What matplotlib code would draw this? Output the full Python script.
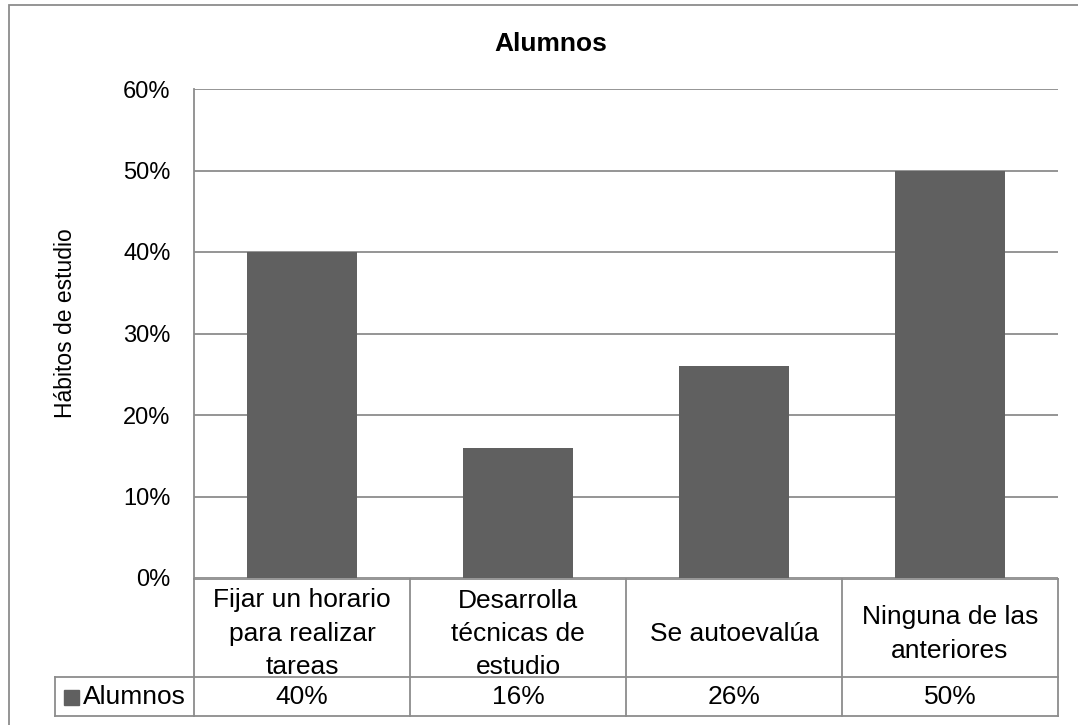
import matplotlib.pyplot as plt
from matplotlib.patches import Rectangle
from matplotlib.lines import Line2D
import matplotlib.transforms as mtransforms

plt.rcParams["font.family"] = ["Liberation Sans", "DejaVu Sans"]

categories = ["Fijar un horario\npara realizar\ntareas",
              "Desarrolla\ntécnicas de\nestudio",
              "Se autoevalúa",
              "Ninguna de las\nanteriores"]
values = [40, 16, 26, 50]
series_name = "Alumnos"
yticks = [0, 10, 20, 30, 40, 50, 60]

BAR = "#606060"
GRID = "#8c8c8c"
W, H = 1078, 725


def fy(py):
    # pixel row -> figure fraction
    return 1 - py / H


def main():
    fig = plt.figure(figsize=(W / 100, H / 100), dpi=100)
    ax = fig.add_axes([194 / W, fy(578), (1058 - 194) / W, (578 - 89) / H])

    x = list(range(len(values)))
    ax.bar(x, values, width=0.51, color=BAR, zorder=3)
    ax.set_xlim(-0.5, len(values) - 0.5)
    ax.set_ylim(0, 60)
    ax.set_yticks(yticks)
    ax.set_yticklabels([f"{v}%" for v in yticks], fontsize=17)
    ax.tick_params(axis="y", length=0, pad=17)
    ax.set_xticks([])
    ax.grid(axis="y", color=GRID, lw=1.3, zorder=0)
    for s in ["top", "right", "bottom"]:
        ax.spines[s].set_visible(False)
    ax.spines["left"].set_color(GRID)
    ax.spines["left"].set_linewidth(1.3)

    fig.text(551 / W, fy(44), "Alumnos", ha="center", va="center",
             fontsize=19, fontweight="bold")
    fig.text(66 / W, fy(323), "Hábitos de estudio", ha="center", va="center",
             rotation=90, fontsize=16.5)

    # data table under the axis: x in data units, y in figure fraction
    tr = mtransforms.blended_transform_factory(ax.transData, fig.transFigure)
    top, mid, bot = fy(579), fy(677), fy(716)
    n = len(values)
    lk = dict(color=GRID, lw=1.3, clip_on=False)
    fig.add_artist(Line2D([-0.5, n - 0.5], [top, top], transform=tr, **lk))
    fig.add_artist(Line2D([-0.5, n - 0.5], [bot, bot], transform=tr, **lk))
    fig.add_artist(Line2D([55 / W, 194 / W], [mid, mid],
                          transform=fig.transFigure, **lk))
    fig.add_artist(Line2D([55 / W, 194 / W], [bot, bot],
                          transform=fig.transFigure, **lk))
    fig.add_artist(Line2D([55 / W, 55 / W], [mid, bot],
                          transform=fig.transFigure, **lk))
    fig.add_artist(Line2D([-0.5, n - 0.5], [mid, mid], transform=tr, **lk))
    for i in range(n + 1):
        fig.add_artist(Line2D([i - 0.5, i - 0.5], [top, bot], transform=tr, **lk))
    for i, (c, v) in enumerate(zip(categories, values)):
        fig.text(i, fy(634), c, transform=tr, ha="center", va="center",
                 fontsize=19, linespacing=1.5)
        fig.text(i, (mid + bot) / 2, f"{v}%", transform=tr, ha="center",
                 va="center", fontsize=19)
    fig.add_artist(Rectangle((64 / W, fy(705)), 15 / W, 15 / H,
                             transform=fig.transFigure, color=BAR))
    fig.text(83 / W, (mid + bot) / 2, series_name, ha="left", va="center",
             fontsize=19)

    # outer chart border
    fig.add_artist(Rectangle((9 / W, -0.01), 1.02, fy(5) + 0.01,
                             transform=fig.transFigure, fill=False,
                             ec=GRID, lw=1.3))

    fig.savefig("out.png", dpi=100)
    plt.close(fig)


if __name__ == "__main__":
    main()
